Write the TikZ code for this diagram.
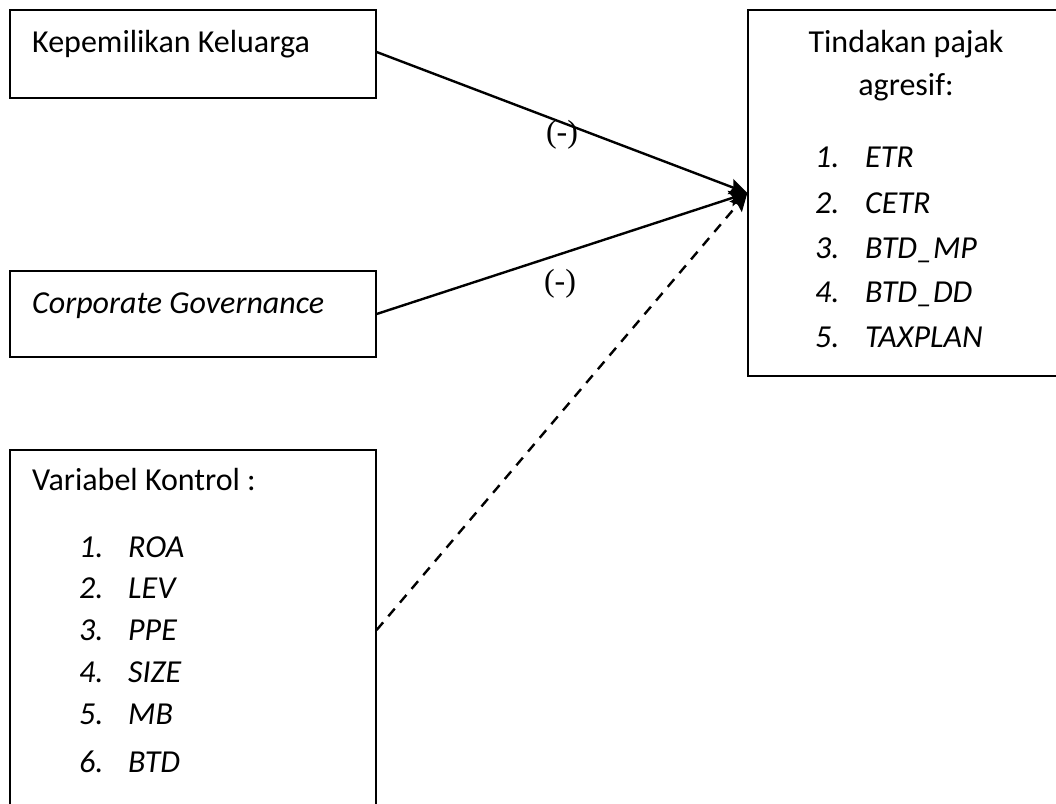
\documentclass[tikz,border=0pt]{standalone}
\usepackage{fontspec}
\setmainfont{Carlito}
\newfontfamily\serifsign{Liberation Serif}
\usetikzlibrary{arrows.meta}
\tikzset{
  boxnode/.style={draw, line width=1.3pt, inner sep=0pt},
  txt/.style={anchor=base west, inner sep=0pt, font=\fontsize{32}{38}\selectfont},
  ctxt/.style={anchor=base, inner sep=0pt, font=\fontsize{32}{38}\selectfont},
  itxt/.style={anchor=base west, inner sep=0pt, font=\fontsize{32}{38}\selectfont\itshape},
  sign/.style={anchor=base, inner sep=0pt, font=\fontsize{32}{38}\selectfont\serifsign},
  conn/.style={line width=2.4pt, -{Stealth[length=18pt,width=16pt,inset=3pt]}},
}
\begin{document}
\begin{tikzpicture}[x=1pt,y=-1pt]
\useasboundingbox (0,0) rectangle (1056,803);
% boxes
\node[boxnode, minimum width=366pt, minimum height=88pt] (kk) at (193,54) {};
\node[boxnode, minimum width=366pt, minimum height=86pt] (cg) at (193,314) {};
\node[boxnode, minimum width=366pt, minimum height=360pt] (vk) at (193,630) {};
\node[boxnode, minimum width=316pt, minimum height=366pt] (tp) at (906,193) {};
% texts
\node[txt] (t1) at (32,52) {Kepemilikan Keluarga};
\node[itxt] (t2) at (32,313) {Corporate Governance};
\node[txt] (t3) at (32,490) {Variabel Kontrol :};
\node[itxt] (v1n) at (79,557) {1.};  \node[itxt] (v1) at (128,557) {ROA};
\node[itxt] (v2n) at (79,598) {2.};  \node[itxt] (v2) at (128,598) {LEV};
\node[itxt] (v3n) at (79,640) {3.};  \node[itxt] (v3) at (128,640) {PPE};
\node[itxt] (v4n) at (79,682) {4.};  \node[itxt] (v4) at (128,682) {SIZE};
\node[itxt] (v5n) at (79,724) {5.};  \node[itxt] (v5) at (128,724) {MB};
\node[itxt] (v6n) at (79,772) {6.};  \node[itxt] (v6) at (128,772) {BTD};
\node[ctxt] (h1) at (906,52) {Tindakan pajak};
\node[ctxt] (h2) at (906,95) {agresif:};
\node[itxt] (r1n) at (815,167) {1.};  \node[itxt] (r1) at (865,167) {ETR};
\node[itxt] (r2n) at (815,213) {2.};  \node[itxt] (r2) at (865,213) {CETR};
\node[itxt] (r3n) at (815,258) {3.};  \node[itxt] (r3) at (865,258) {BTD\_MP};
\node[itxt] (r4n) at (815,302) {4.};  \node[itxt] (r4) at (865,302) {BTD\_DD};
\node[itxt] (r5n) at (815,347) {5.};  \node[itxt] (r5) at (865,347) {TAXPLAN};
% connectors
\draw[conn] ([yshift=2pt]kk.east) -- (tp.west);
\draw[conn] (cg.east) -- (tp.west);
\draw[conn, dashed, dash pattern=on 10pt off 8pt] (vk.east) -- (tp.west);
% signs
\node[sign] (s1) at (562,142) {(-)};
\node[sign] (s2) at (560,291) {(-)};
\end{tikzpicture}
\end{document}
